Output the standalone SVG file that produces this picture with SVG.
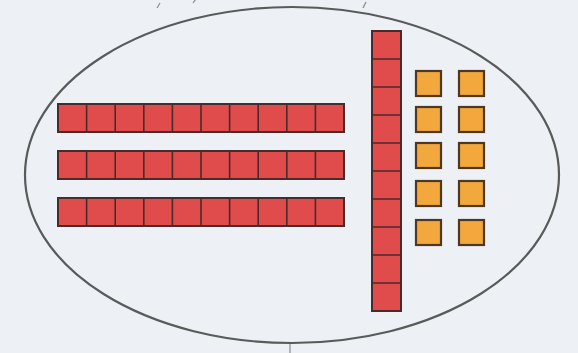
<svg xmlns="http://www.w3.org/2000/svg" width="578" height="353" viewBox="0 0 578 353">
<defs>
<style>
.red{fill:#e04b4c;stroke:#4a2b2b;stroke-width:2}
.org{fill:#f2a83c;stroke:#4f3822;stroke-width:2.2}
.ln{stroke:#4a2b2b;stroke-width:1.6}
.edge{fill:none;stroke:#5a5a5a;stroke-width:2.2}
.tick{stroke:#8a8a8a;stroke-width:1.2}
</style>
<g id="hbar">
<rect class="red" x="0" y="0" width="286" height="28"/>
<path class="ln" d="M28.6 0V28M57.2 0V28M85.8 0V28M114.4 0V28M143 0V28M171.6 0V28M200.2 0V28M228.8 0V28M257.4 0V28"/>
</g>
<rect id="osq" class="org" x="0" y="0" width="25" height="25"/>
</defs>
<rect width="578" height="353" fill="#edf1f6"/>
<g id="ticks">
<line class="tick" x1="157" y1="8" x2="160" y2="3"/>
<line class="tick" x1="193" y1="3" x2="196" y2="-1"/>
<line class="tick" x1="363" y1="8" x2="366" y2="2"/>
<line class="tick" x1="290" y1="344" x2="290" y2="353"/>
</g>
<g id="set">
<ellipse class="edge" cx="292" cy="175" rx="267" ry="168"/>
</g>
<g id="ten-1"><use href="#hbar" x="58" y="104"/></g>
<g id="ten-2"><use href="#hbar" x="58" y="151"/></g>
<g id="ten-3"><use href="#hbar" x="58" y="198"/></g>
<g id="ten-4">
<rect class="red" x="372" y="31" width="29" height="280"/>
<path class="ln" d="M372 59H401M372 87H401M372 115H401M372 143H401M372 171H401M372 199H401M372 227H401M372 255H401M372 283H401"/>
</g>
<g id="ones">
<use href="#osq" x="416" y="71"/><use href="#osq" x="459" y="71"/>
<use href="#osq" x="416" y="107"/><use href="#osq" x="459" y="107"/>
<use href="#osq" x="416" y="143"/><use href="#osq" x="459" y="143"/>
<use href="#osq" x="416" y="181"/><use href="#osq" x="459" y="181"/>
<use href="#osq" x="416" y="220"/><use href="#osq" x="459" y="220"/>
</g>
</svg>
